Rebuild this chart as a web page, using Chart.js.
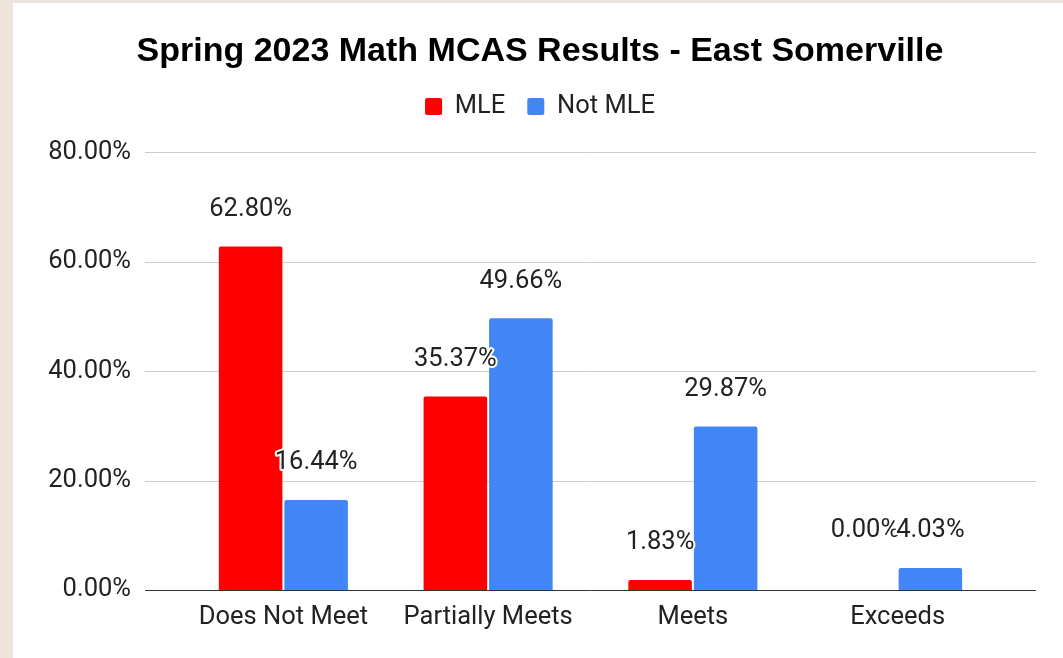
<!DOCTYPE html>
<html lang="en">
  <head>
    <meta charset="UTF-8" />
    <script src="https://cdn.jsdelivr.net/npm/chart.js@4.4.0/dist/chart.umd.min.js"></script>
    <title>Spring 2023 Math MCAS Results</title>
    <style>
      html, body { margin: 0; padding: 0; background: #efe4da; }
      .canvas-container {
        position: absolute;
        left: 13px;
        top: 3px;
        width: 1050px;
        height: 655px;
        background: #fff;
      }
    </style>
  </head>
  <body>
    <div class="canvas-container">
      <canvas id="myChart"></canvas>
    </div>

    <script>
      const categories = ["Does Not Meet", "Partially Meets", "Meets", "Exceeds"];
      const mle = [62.8, 35.37, 1.83, 0.0];
      const notMle = [16.44, 49.66, 29.87, 4.03];
      const yTicks = [0, 20, 40, 60, 80];

      const FONT = "Roboto, 'Liberation Sans', Arial, sans-serif";
      const FS = 25.5;

      // horizontal grid lines run past the bar area, like the original
      const wideGrid = {
        id: "wideGrid",
        beforeDatasetsDraw(chart) {
          const ctx = chart.ctx;
          const y = chart.scales.y;
          const area = chart.chartArea;
          ctx.save();
          yTicks.forEach((t) => {
            const py = Math.round(y.getPixelForValue(t)) + 0.5;
            ctx.strokeStyle = t === 0 ? "#333333" : "#cccccc";
            ctx.lineWidth = 1;
            ctx.beginPath();
            ctx.moveTo(area.left - 36, py);
            ctx.lineTo(area.right + 36, py);
            ctx.stroke();
          });
          ctx.restore();
        },
      };

      // extra room under the legend, and centre title + legend on the whole card
      const headerFix = {
        id: "headerFix",
        afterInit(chart) {
          const lg = chart.legend;
          const fit = lg.fit;
          lg.fit = function () {
            fit.call(this);
            this.height += 23;
          };
        },
        afterLayout(chart) {
          [chart.titleBlock, chart.legend].forEach((b) => {
            if (b) b.left = 67;
          });
        },
      };

      // value labels above the bars
      const barLabels = {
        id: "barLabels",
        afterDatasetsDraw(chart) {
          const ctx = chart.ctx;
          const metas = [chart.getDatasetMeta(0), chart.getDatasetMeta(1)];
          ctx.save();
          ctx.font = FS + "px " + FONT;
          ctx.textAlign = "center";
          ctx.textBaseline = "middle";
          ctx.lineJoin = "round";
          metas.forEach((meta, di) => {
            const other = metas[1 - di];
            meta.data.forEach((bar, i) => {
              const v = chart.data.datasets[di].data[i];
              let y = bar.y - 37;
              if (v === 0) y = other.data[i].y - 37;
              const txt = v.toFixed(2) + "%";
              ctx.strokeStyle = "#ffffff";
              ctx.lineWidth = 4;
              ctx.strokeText(txt, bar.x, y);
              ctx.fillStyle = "#222222";
              ctx.fillText(txt, bar.x, y);
            });
          });
          ctx.restore();
        },
      };

      const ctx = document.getElementById("myChart").getContext("2d");
      const myChart = new Chart(ctx, {
        type: "bar",
        data: {
          labels: categories,
          datasets: [
            {
              label: "MLE",
              data: mle,
              backgroundColor: "#ff0000",
              borderRadius: 2,
              categoryPercentage: 0.64,
              barPercentage: 0.97,
            },
            {
              label: "Not MLE",
              data: notMle,
              backgroundColor: "#4285f4",
              borderRadius: 2,
              categoryPercentage: 0.64,
              barPercentage: 0.97,
            },
          ],
        },
        options: {
          responsive: true,
          maintainAspectRatio: false,
          animation: false,
          layout: { padding: { left: 0, right: 63, top: 0, bottom: 0 } },
          plugins: {
            title: {
              display: true,
              text: "Spring 2023 Math MCAS Results - East Somerville",
              color: "#000000",
              font: { family: "'Liberation Sans', Arial, sans-serif", size: 34, weight: "bold" },
              padding: { top: 28, bottom: 0 },
            },
            legend: {
              display: true,
              labels: {
                color: "#222222",
                font: { family: FONT, size: FS },
                boxWidth: 17,
                boxHeight: 17,
                useBorderRadius: true,
                borderRadius: 2,
                padding: 22,
              },
            },
            tooltip: { enabled: false },
          },
          scales: {
            x: {
              grid: { display: false },
              border: { display: false },
              ticks: { color: "#222222", font: { family: FONT, size: FS }, padding: 4 },
              afterFit(scale) { scale.height = 68; },
            },
            y: {
              min: 0,
              max: 80,
              grid: { display: false },
              border: { display: false },
              afterBuildTicks(scale) {
                scale.ticks = yTicks.map((v) => ({ value: v }));
              },
              ticks: {
                color: "#222222",
                font: { family: FONT, size: FS },
                padding: 42,
                callback: (v) => v.toFixed(2) + "%",
              },
              afterFit(scale) { scale.width = 168; },
            },
          },
        },
        plugins: [wideGrid, headerFix, barLabels],
      });
    </script>
  </body>
</html>
